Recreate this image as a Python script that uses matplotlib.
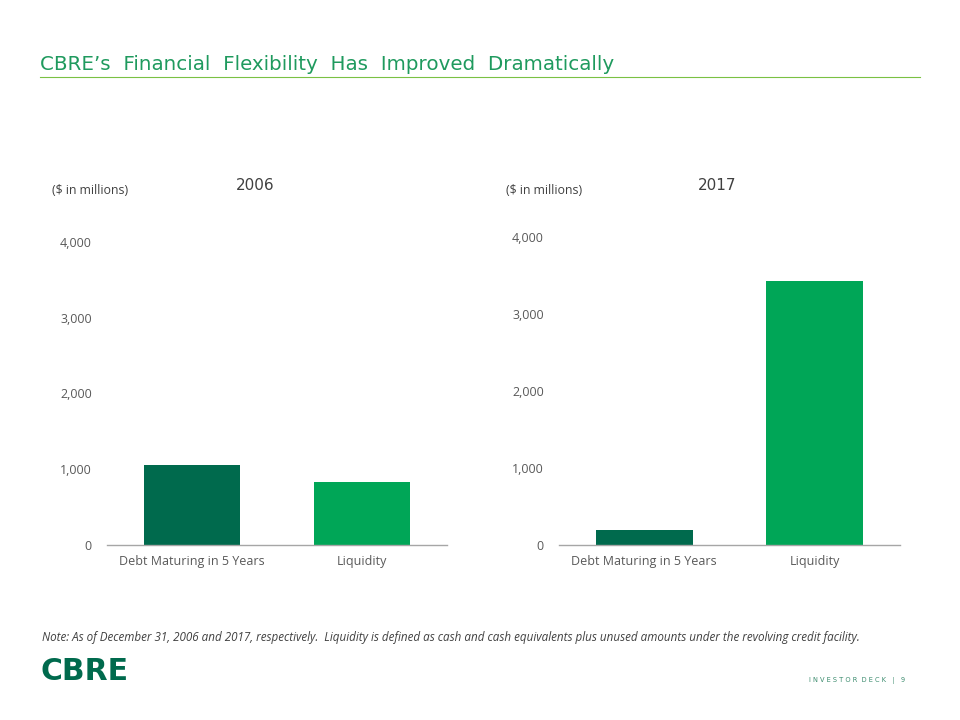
import matplotlib
matplotlib.use("Agg")
import matplotlib.pyplot as plt
from matplotlib.ticker import FuncFormatter

categories = ["Debt Maturing in 5 Years", "Liquidity"]
values_2006 = [1057, 832]
values_2017 = [195, 3428]
yticks = [0, 1000, 2000, 3000, 4000]
colors = ["#006A4D", "#00A657"]

fig = plt.figure(figsize=(9.6, 7.2), dpi=100)
fig.patch.set_facecolor("white")

FONT = "Open Sans"
GRAY = "#595959"

def make_panel(rect, values, year, ylab_x, year_x, year_y):
    ax = fig.add_axes(rect)
    x = range(len(categories))
    ax.bar(x, values, width=0.57, color=colors)
    ax.set_xlim(-0.5, 1.5)
    ax.set_ylim(0, 4000)
    ax.set_yticks(yticks)
    ax.yaxis.set_major_formatter(FuncFormatter(lambda v, p: f"{int(v):,}"))
    ax.set_xticks(list(x))
    ax.set_xticklabels(categories)
    for s in ["top", "right", "left"]:
        ax.spines[s].set_visible(False)
    ax.spines["bottom"].set_color("#A6A6A6")
    ax.spines["bottom"].set_linewidth(1.0)
    ax.tick_params(axis="both", length=0, colors=GRAY, labelsize=9)
    ax.tick_params(axis="y", pad=11)
    ax.tick_params(axis="x", pad=7)
    for lbl in ax.get_xticklabels() + ax.get_yticklabels():
        lbl.set_fontfamily(FONT)
    fig.text(ylab_x, 1 - 191 / 720, "($ in millions)", fontsize=8.8, color="#404040",
             fontfamily=FONT, ha="left", va="center")
    fig.text(year_x, 1 - year_y / 720, year, fontsize=11, color="#404040",
             fontfamily="DejaVu Sans", ha="center", va="center")
    return ax

make_panel([107 / 960, 1 - 545 / 720, 340 / 960, 303 / 720], values_2006, "2006", 52 / 960, 255 / 960, 186)
make_panel([559 / 960, 1 - 545 / 720, 341 / 960, 308 / 720], values_2017, "2017", 506 / 960, 717 / 960, 185)

# Title and rule
fig.text(40 / 960, 1 - 64 / 720, "CBRE\u2019s  Financial  Flexibility  Has  Improved  Dramatically",
         fontsize=14.3, color="#1F9A5E", fontfamily="DejaVu Sans", ha="left", va="center")
fig.add_artist(plt.Line2D([40 / 960, 920 / 960], [1 - 77 / 720, 1 - 77 / 720],
                          color="#7AC143", linewidth=0.8, transform=fig.transFigure))

# Note
fig.text(42 / 960, 1 - 637 / 720,
         "Note: As of December 31, 2006 and 2017, respectively.  Liquidity is defined as cash and cash equivalents plus unused amounts under the revolving credit facility.",
         fontsize=8.4, style="italic", color="#404040", fontfamily=FONT, ha="left", va="center")

# Logo
fig.text(40 / 960, 1 - 672 / 720, "CBRE", fontsize=21.5, fontweight="bold", color="#006A4D",
         fontfamily="DejaVu Sans", ha="left", va="center")

# Footer
fig.text(905 / 960, 1 - 680 / 720, "I N V E S T O R  D E C K   |   9", fontsize=4.8, color="#3C8C6E",
         fontfamily="DejaVu Sans", ha="right", va="center")

fig.savefig("out.png", dpi=100, facecolor="white")
